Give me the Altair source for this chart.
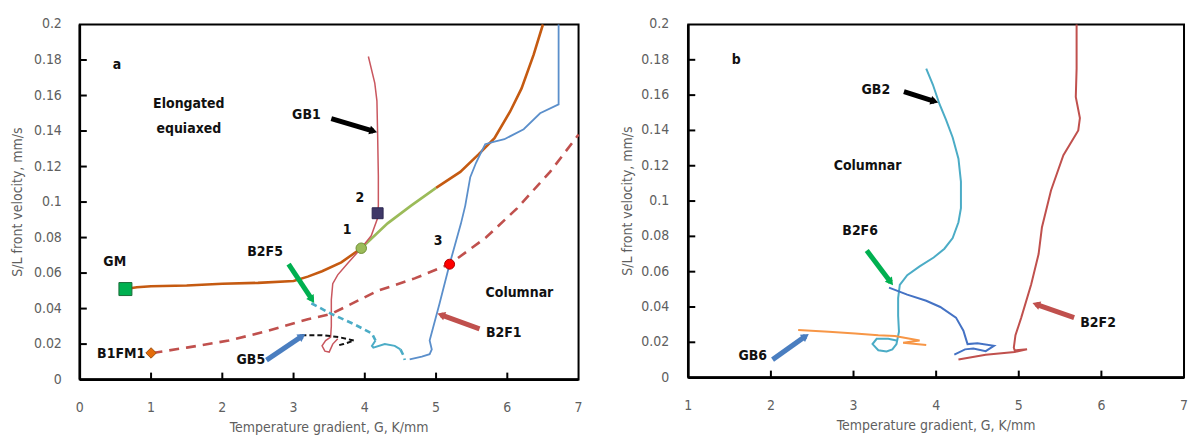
import math
import altair as alt
import pandas as pd

# ---------------- Panel a data ----------------
GM_G = [0.64, 0.8, 1.0, 1.5, 2.0, 2.5, 3.0, 3.2, 3.4, 3.67, 3.95]
GM_V = [0.051, 0.052, 0.0526, 0.053, 0.054, 0.0545, 0.0555, 0.058, 0.061, 0.066, 0.074]
GREEN_G = [3.95, 4.32, 4.65, 5.0]
GREEN_V = [0.074, 0.088, 0.098, 0.108]
GMTOP_G = [5.0, 5.34, 5.6, 5.82, 6.04, 6.2, 6.37, 6.5]
GMTOP_V = [0.108, 0.117, 0.127, 0.136, 0.151, 0.164, 0.183, 0.2]

GB1_G = [4.05, 4.14, 4.17, 4.18, 4.19, 4.19, 4.18, 4.09, 3.95, 3.77, 3.62, 3.55,
         3.53, 3.53, 3.52, 3.45, 3.40, 3.44, 3.50, 3.55, 3.62]
GB1_V = [0.182, 0.167, 0.157, 0.138, 0.115, 0.098, 0.091, 0.081, 0.074, 0.066, 0.059, 0.054,
         0.045, 0.030, 0.024, 0.022, 0.019, 0.016, 0.0155, 0.020, 0.023]

B2F1_G = [4.63, 4.8, 4.91, 4.94, 4.91, 5.05, 5.19, 5.35, 5.41, 5.48, 5.56, 5.62, 5.69,
          5.82, 5.96, 6.23, 6.46, 6.72, 6.72]
B2F1_V = [0.0114, 0.013, 0.0143, 0.017, 0.022, 0.043, 0.065, 0.088, 0.098, 0.114, 0.122,
          0.127, 0.1326, 0.134, 0.1354, 0.141, 0.150, 0.155, 0.2]

B1FM1_G = [1.02, 1.5, 2.09, 2.6, 3.2, 3.53, 4.18, 4.7, 5.19, 5.7, 6.14, 6.6, 7.0]
B1FM1_V = [0.015, 0.018, 0.022, 0.027, 0.034, 0.037, 0.05, 0.057, 0.065, 0.080, 0.0966, 0.117, 0.138]

B2F5A_G = [3.25, 3.53, 3.86, 4.1, 4.15]
B2F5A_V = [0.043, 0.037, 0.031, 0.026, 0.022]
B2F5B_G = [4.15, 4.1, 4.12, 4.28, 4.42, 4.5]
B2F5B_V = [0.022, 0.019, 0.018, 0.020, 0.019, 0.017]
B2F5C_G = [4.5, 4.55, 4.56]
B2F5C_V = [0.017, 0.013, 0.011]

GB5_G = [3.11, 3.4, 3.63, 3.85, 3.7, 3.6]
GB5_V = [0.025, 0.025, 0.024, 0.022, 0.020, 0.019]

# markers: (G, V)
GM_PT = (0.64, 0.051)
B1FM1_PT = (1.0, 0.015)
P1 = (3.95, 0.074)
P2 = (4.18, 0.0937)
P3 = (5.19, 0.065)

# arrows: (label, G0, V0, G1, V1)
ARROWS_A = [("GB1", 3.53, 0.147, 4.12, 0.140),
            ("B2F5", 2.93, 0.065, 3.26, 0.045),
            ("GB5", 2.62, 0.011, 3.12, 0.0245),
            ("B2F1", 5.61, 0.0286, 5.07, 0.0365)]

# text labels: (text, G, V)
LABELS_A = [("a", 0.52, 0.177), ("Elongated", 1.53, 0.155), ("equiaxed", 1.53, 0.141),
            ("GB1", 3.18, 0.149), ("2", 3.93, 0.102), ("1", 3.75, 0.084),
            ("B2F5", 2.6, 0.072), ("GM", 0.49, 0.066), ("B1FM1", 0.58, 0.0143),
            ("GB5", 2.4, 0.011), ("3", 5.03, 0.078), ("Columnar", 6.17, 0.049),
            ("B2F1", 5.95, 0.026)]

# ---------------- Panel b data ----------------
GB2_G = [3.88, 3.96, 4.04, 4.12, 4.2, 4.27, 4.3, 4.3, 4.27, 4.2, 4.1, 3.97, 3.8, 3.65,
         3.56, 3.54, 3.54, 3.55, 3.52, 3.47, 3.4, 3.3, 3.23, 3.28, 3.42, 3.52]
GB2_V = [0.175, 0.166, 0.155, 0.146, 0.136, 0.124, 0.111, 0.096, 0.088, 0.079, 0.073, 0.068,
         0.063, 0.058, 0.0525, 0.045, 0.035, 0.026, 0.019, 0.016, 0.0148, 0.0155, 0.019,
         0.022, 0.022, 0.021]

B2F6_G = [3.43, 3.65, 3.88, 4.05, 4.24, 4.33, 4.38, 4.5, 4.7, 4.6, 4.45, 4.35, 4.22]
B2F6_V = [0.051, 0.047, 0.0435, 0.040, 0.034, 0.0266, 0.019, 0.0195, 0.018, 0.015, 0.0165,
          0.016, 0.013]

B2F2_G = [5.7, 5.7, 5.69, 5.74, 5.72, 5.54, 5.39, 5.28, 5.24, 5.15, 5.03, 4.96, 4.94,
          4.95, 5.1, 4.95, 4.6, 4.27]
B2F2_V = [0.2, 0.175, 0.159, 0.147, 0.14, 0.126, 0.106, 0.085, 0.07, 0.0527, 0.034, 0.024,
          0.017, 0.0155, 0.016, 0.0145, 0.013, 0.0102]

GB6_G = [2.33, 2.7, 3.02, 3.3, 3.5, 3.8, 3.6, 3.88]
GB6_V = [0.027, 0.026, 0.025, 0.024, 0.0235, 0.021, 0.0198, 0.0185]

ARROWS_B = [("GB2", 3.61, 0.162, 3.98, 0.1565),
            ("B2F6", 3.16, 0.072, 3.45, 0.054),
            ("GB6", 2.02, 0.0102, 2.42, 0.0235),
            ("B2F2", 5.67, 0.034, 5.21, 0.0415)]

LABELS_B = [("b", 1.58, 0.18), ("GB2", 3.27, 0.163), ("Columnar", 3.17, 0.12),
            ("B2F6", 3.08, 0.083), ("GB6", 1.78, 0.0124), ("B2F2", 5.96, 0.031)]

Y_TICKS = [0, 0.02, 0.04, 0.06, 0.08, 0.1, 0.12, 0.14, 0.16, 0.18, 0.2]
XA_TICKS = [0, 1, 2, 3, 4, 5, 6, 7]
XB_TICKS = [1, 2, 3, 4, 5, 6, 7]
X_TITLE = "Temperature gradient, G, K/mm"
Y_TITLE = "S/L front velocity, mm/s"

# ---------------- styling ----------------
FONT = "DejaVu Sans Condensed, DejaVu Sans, sans-serif"
GRAY = "#5f5f5f"
C_ORANGE = "#C55A11"
C_GREEN = "#9BBB59"
C_RED = "#C0504D"
C_BLUE = "#5B8FCB"
C_CYAN = "#4BACC6"
C_ARROW_GREEN = "#00B050"
C_ARROW_BLUE = "#4A7EC0"


def path_df(gs, vs):
    return pd.DataFrame({"G": gs, "V": vs, "i": list(range(len(gs)))})


def panel(xdom, xticks, w, h, lab_dx, title_dx, lines, arrows, arrow_colors, labels, points):
    xs = alt.Scale(domain=xdom, nice=False, zero=False)
    ys = alt.Scale(domain=[0, 0.2], nice=False)

    def X():
        return alt.X("G:Q", scale=xs, axis=None)

    def Y():
        return alt.Y("V:Q", scale=ys, axis=None)

    layers = []
    for (gs, vs, color, width, dash) in lines:
        kw = dict(color=color, strokeWidth=width, strokeCap="butt")
        if dash:
            kw["strokeDash"] = dash
        layers.append(alt.Chart(path_df(gs, vs)).mark_line(**kw).encode(
            x=X(), y=Y(), order="i:Q"))
    # inner ticks
    ydf = pd.DataFrame({"V": Y_TICKS[1:-1]})
    layers.append(alt.Chart(ydf).mark_rule(color="#000", strokeWidth=2).encode(
        y=Y(), x=alt.value(0), x2=alt.value(7)))
    xdf = pd.DataFrame({"G": xticks[1:-1]})
    layers.append(alt.Chart(xdf).mark_rule(color="#000", strokeWidth=2).encode(
        x=X(), y=alt.value(h), y2=alt.value(h - 7)))
    # thicker left / bottom axis lines
    one = pd.DataFrame({"V": [0.0]})
    layers.append(alt.Chart(one).mark_rule(color="#000", strokeWidth=2.6).encode(
        y=Y(), x=alt.value(0), x2=alt.value(w)))
    layers.append(alt.Chart(pd.DataFrame({"G": [xdom[0]]})).mark_rule(
        color="#000", strokeWidth=2.6).encode(x=X(), y=alt.value(0), y2=alt.value(h)))
    # tick labels and axis titles (text)
    ylab = pd.DataFrame({"V": Y_TICKS, "t": [f"{v:g}" for v in Y_TICKS]})
    layers.append(alt.Chart(ylab).mark_text(font=FONT, fontSize=14, color=GRAY,
                                            align="right", baseline="middle").encode(
        y=Y(), x=alt.value(lab_dx), text="t:N"))
    xlab = pd.DataFrame({"G": xticks, "t": [str(g) for g in xticks]})
    layers.append(alt.Chart(xlab).mark_text(font=FONT, fontSize=14, color=GRAY,
                                            align="center", baseline="middle").encode(
        x=X(), y=alt.value(h + 28), text="t:N"))
    layers.append(alt.Chart(pd.DataFrame({"t": [X_TITLE]})).mark_text(
        font=FONT, fontSize=14, color=GRAY, align="center", baseline="middle").encode(
        x=alt.value(w / 2), y=alt.value(h + 49), text="t:N"))
    layers.append(alt.Chart(pd.DataFrame({"t": [Y_TITLE]})).mark_text(
        font=FONT, fontSize=14, color=GRAY, align="center", baseline="middle",
        angle=270).encode(x=alt.value(title_dx), y=alt.value(h / 2), text="t:N"))
    # arrows
    kx = w / (xdom[1] - xdom[0])
    ky = h / 0.2
    for (lab, g0, v0, g1, v1) in arrows:
        color = arrow_colors[lab]
        layers.append(alt.Chart(path_df([g0, g1], [v0, v1])).mark_line(
            color=color, strokeWidth=5, strokeCap="butt").encode(
            x=X(), y=Y(), order="i:Q"))
        dx = (g1 - g0) * kx
        dy = -(v1 - v0) * ky
        ang = math.degrees(math.atan2(dx, -dy)) % 360
        layers.append(alt.Chart(pd.DataFrame({"G": [g1], "V": [v1]})).mark_point(
            shape="triangle-up", filled=True, color=color, size=80, angle=ang, opacity=1).encode(
            x=X(), y=Y()))
    # markers
    for (pt, shape, fill, stroke, size) in points:
        layers.append(alt.Chart(pd.DataFrame({"G": [pt[0]], "V": [pt[1]]})).mark_point(
            shape=shape, filled=True, fill=fill, stroke=stroke, strokeWidth=1, size=size,
            opacity=1).encode(x=X(), y=Y()))
    # annotation labels
    ldf = pd.DataFrame({"t": [l[0] for l in labels], "G": [l[1] for l in labels],
                        "V": [l[2] for l in labels]})
    layers.append(alt.Chart(ldf).mark_text(font=FONT, fontSize=14, fontWeight="bold",
                                           color="#111").encode(
        x=X(), y=Y(), text="t:N"))
    return alt.layer(*layers).properties(width=w, height=h)


lines_a = [
    (GM_G, GM_V, C_ORANGE, 2.6, None),
    (GREEN_G, GREEN_V, C_GREEN, 2.6, None),
    (GMTOP_G, GMTOP_V, C_ORANGE, 2.6, None),
    (GB1_G, GB1_V, "#C9575F", 1.5, None),
    (B2F1_G, B2F1_V, C_BLUE, 1.8, None),
    (B1FM1_G, B1FM1_V, C_RED, 2.6, [10, 7]),
    (B2F5A_G, B2F5A_V, C_CYAN, 2.6, [6, 4]),
    (B2F5B_G, B2F5B_V, C_CYAN, 2.0, None),
    (B2F5C_G, B2F5C_V, C_CYAN, 2.6, [6, 4]),
    (GB5_G, GB5_V, "#111", 2.0, [5, 3]),
]
arrow_colors_a = {"GB1": "#000", "B2F5": C_ARROW_GREEN, "GB5": C_ARROW_BLUE, "B2F1": C_RED}
points_a = [
    (GM_PT, "square", "#00B050", "#1d6b3a", 170),
    (B1FM1_PT, "diamond", "#E46C0A", "#a05010", 110),
    (P1, "circle", C_GREEN, "#6f8f35", 110),
    (P2, "square", "#3F3868", "#2a2550", 120),
    (P3, "circle", "#FF0000", "#b00000", 100),
]

lines_b = [
    (GB2_G, GB2_V, C_CYAN, 2.0, None),
    (B2F6_G, B2F6_V, "#4472C4", 2.0, None),
    (B2F2_G, B2F2_V, C_RED, 2.0, None),
    (GB6_G, GB6_V, "#F79646", 2.0, None),
]
arrow_colors_b = {"GB2": "#000", "B2F6": C_ARROW_GREEN, "GB6": C_ARROW_BLUE, "B2F2": C_RED}

pa = panel([0, 7], XA_TICKS, 500, 356, -18, -62, lines_a, ARROWS_A, arrow_colors_a,
           LABELS_A, points_a)
pb = panel([1, 7], XB_TICKS, 497, 354, -19, -60, lines_b, ARROWS_B, arrow_colors_b,
           LABELS_B, [])

chart = alt.hconcat(pa, pb, spacing=35).properties(
    padding={"left": 2, "top": 8, "right": 0, "bottom": 0}
).configure_view(stroke="#000", strokeWidth=2)

chart.save("out.html", embed_options={"renderer": "svg", "actions": False})
